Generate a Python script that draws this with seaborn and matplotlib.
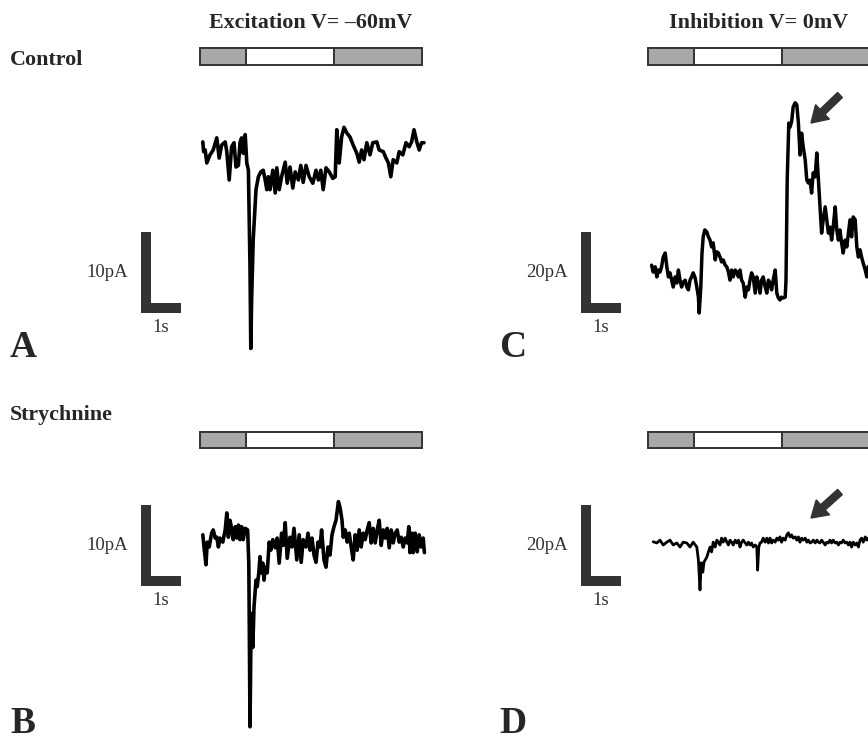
import matplotlib
matplotlib.use("Agg")
import matplotlib.pyplot as plt
from matplotlib.patches import Rectangle, FancyArrow
import pandas as pd
import seaborn as sns

# ---------------- recorded currents (time in s, current in pA) ----------------
# A: control, excitation (V = -60 mV)
time_a = [0.07, 0.09, 0.13, 0.17, 0.25, 0.33, 0.42, 0.48, 0.54, 0.63,
          0.67, 0.73, 0.79, 0.85, 0.90, 0.96, 1.00, 1.04, 1.08, 1.13,
          1.17, 1.21, 1.25, 1.27, 1.29, 1.33, 1.40, 1.46, 1.52, 1.58,
          1.63, 1.67, 1.71, 1.75, 1.82, 1.88, 1.92, 1.98, 2.04, 2.13,
          2.18, 2.25, 2.32, 2.38, 2.46, 2.52, 2.58, 2.65, 2.73, 2.82,
          2.90, 2.96, 3.02, 3.08, 3.15, 3.23, 3.32, 3.38, 3.42, 3.48,
          3.54, 3.60, 3.67, 3.75, 3.83, 3.92, 3.98, 4.04, 4.10, 4.17,
          4.25, 4.32, 4.42, 4.48, 4.58, 4.65, 4.71, 4.77, 4.83, 4.92,
          4.98, 5.07, 5.15, 5.23, 5.29, 5.35, 5.42, 5.48, 5.54, 5.60]
curr_a = [1.0, -0.2, 0.0, -1.6, -0.6, 0.0, 1.5, -1.0, 0.6, 1.0,
          -0.2, -3.7, 0.4, 0.9, -2.1, -1.9, 0.9, 1.5, -0.4, 1.9,
          -1.6, -2.5, -14.4, -24.5, -18.5, -11.1, -4.9, -3.3, -2.7, -2.5,
          -3.7, -4.9, -3.3, -4.9, -2.5, -5.3, -2.2, -4.9, -3.3, -1.5,
          -4.1, -2.1, -4.7, -2.7, -3.7, -1.9, -4.0, -1.9, -3.3, -4.1,
          -2.5, -3.7, -2.5, -4.9, -2.2, -2.7, -3.5, -3.3, 2.5, -1.6,
          1.6, 2.8, 2.1, 1.6, 0.6, -0.4, -1.5, 0.0, -1.2, 0.9,
          -0.6, 0.9, 1.0, 0.0, -0.2, -1.0, -1.6, -3.3, -1.2, -1.6,
          -0.2, -0.6, 0.9, 0.4, 1.0, 2.5, 1.0, 0.0, 0.9, 0.9]

# B: strychnine, excitation (V = -60 mV)
time_b = [0.07, 0.10, 0.15, 0.18, 0.23, 0.29, 0.33, 0.38, 0.42, 0.46,
          0.50, 0.57, 0.63, 0.67, 0.71, 0.75, 0.79, 0.83, 0.88, 0.92,
          0.96, 1.00, 1.04, 1.08, 1.13, 1.19, 1.22, 1.23, 1.25, 1.28,
          1.32, 1.35, 1.40, 1.43, 1.47, 1.50, 1.53, 1.57, 1.60, 1.63,
          1.68, 1.73, 1.77, 1.82, 1.88, 1.93, 1.98, 2.04, 2.08, 2.13,
          2.18, 2.25, 2.30, 2.35, 2.42, 2.48, 2.53, 2.58, 2.65, 2.70,
          2.75, 2.80, 2.85, 2.90, 2.95, 3.00, 3.04, 3.10, 3.15, 3.20,
          3.25, 3.30, 3.35, 3.40, 3.46, 3.50, 3.55, 3.58, 3.63, 3.68,
          3.73, 3.78, 3.83, 3.88, 3.93, 3.98, 4.03, 4.08, 4.13, 4.18,
          4.23, 4.28, 4.33, 4.38, 4.43, 4.48, 4.53, 4.58, 4.63, 4.68,
          4.73, 4.78, 4.83, 4.88, 4.93, 4.98, 5.03, 5.08, 5.13, 5.18,
          5.22, 5.25, 5.30, 5.33, 5.38, 5.43, 5.48, 5.53, 5.58, 5.61]
curr_b = [-0.1, -1.6, -3.8, -1.0, -1.6, 0.1, 0.5, -0.5, -0.4, -1.6,
          -0.5, -1.0, 0.5, 2.6, -0.4, 1.7, 0.7, -0.7, 0.9, -0.5,
          1.1, -0.7, 0.9, -0.7, 0.7, 0.5, -3.6, -9.8, -23.8, -9.8,
          -14.0, -9.0, -5.7, -6.5, -4.8, -2.8, -4.8, -3.6, -5.7, -4.1,
          -4.8, -1.0, -2.0, -0.7, -1.7, -0.5, -3.6, 0.1, -1.4, 1.4,
          -3.0, -0.4, -1.6, 0.7, -3.2, -0.1, -3.5, -0.7, -1.6, 0.1,
          -2.0, -0.5, -2.6, -3.5, -1.0, -1.6, 0.5, -3.2, -4.1, -1.6,
          -2.6, -0.1, 0.9, 1.7, 4.0, 3.3, 1.7, -0.4, 0.5, -1.0,
          0.1, -1.6, -3.2, -0.1, -2.0, 0.5, -1.6, 0.1, -0.7, 0.5,
          1.4, -1.1, 0.7, -1.1, 0.5, 1.7, -1.4, 0.5, -0.5, 0.7,
          -1.7, 0.5, -1.1, 0.1, 0.5, -1.0, -0.4, -1.6, -0.5, -1.1,
          0.9, -2.3, 0.1, -2.3, 0.1, -2.2, -0.1, -1.6, -0.5, -2.3]

# C: control, inhibition (V = 0 mV)
time_c = [0.09, 0.13, 0.18, 0.22, 0.26, 0.30, 0.34, 0.38, 0.43, 0.47,
          0.51, 0.55, 0.59, 0.63, 0.68, 0.72, 0.76, 0.80, 0.84, 0.88,
          0.93, 0.97, 1.01, 1.05, 1.09, 1.13, 1.18, 1.22, 1.26, 1.28,
          1.32, 1.35, 1.38, 1.42, 1.47, 1.51, 1.55, 1.59, 1.63, 1.68,
          1.72, 1.76, 1.80, 1.84, 1.88, 1.93, 1.97, 2.01, 2.05, 2.09,
          2.13, 2.18, 2.22, 2.26, 2.30, 2.34, 2.38, 2.43, 2.47, 2.51,
          2.55, 2.59, 2.63, 2.68, 2.72, 2.76, 2.80, 2.84, 2.88, 2.93,
          2.97, 3.01, 3.05, 3.09, 3.13, 3.18, 3.22, 3.26, 3.30, 3.34,
          3.38, 3.43, 3.45, 3.48, 3.52, 3.55, 3.59, 3.63, 3.68, 3.72,
          3.76, 3.80, 3.84, 3.88, 3.93, 3.97, 4.01, 4.05, 4.09, 4.13,
          4.18, 4.22, 4.26, 4.30, 4.34, 4.38, 4.43, 4.47, 4.51, 4.55,
          4.59, 4.63, 4.68, 4.72, 4.76, 4.80, 4.84, 4.88, 4.93, 4.97,
          5.01, 5.05, 5.09, 5.13, 5.18, 5.22, 5.26, 5.30, 5.34, 5.38,
          5.43, 5.47, 5.50, 5.55]
curr_c = [8.6, 6.9, 8.2, 5.7, 7.4, 6.9, 8.2, 10.6, 11.6, 8.2,
          5.7, 6.7, 4.9, 3.2, 5.7, 4.2, 7.4, 4.9, 3.2, 4.4,
          4.9, 3.2, 2.5, 4.9, 5.7, 6.7, 5.4, 3.2, 0.7, -3.2,
          3.2, 11.6, 15.6, 17.3, 16.8, 15.6, 14.8, 13.1, 14.1, 9.9,
          11.9, 11.6, 10.6, 9.4, 9.9, 8.6, 8.2, 6.9, 4.9, 7.4,
          5.7, 7.4, 6.9, 5.7, 7.4, 4.9, 4.2, 0.7, 3.2, 2.5,
          4.9, 6.7, 5.7, 1.7, 5.7, 4.2, 1.7, 4.9, 5.7, 3.2,
          1.7, 4.9, 4.2, 2.5, 4.9, 7.4, 1.7, 0.5, 0.0, 0.7,
          0.5, 0.7, 4.9, 29.6, 43.7, 42.7, 44.0, 47.7, 48.7, 48.2,
          43.7, 35.8, 41.2, 37.8, 34.6, 29.6, 28.9, 29.6, 26.4, 31.4,
          30.4, 36.3, 29.6, 23.0, 16.5, 19.8, 23.0, 19.8, 16.5, 18.0,
          14.8, 18.0, 23.0, 17.3, 14.8, 17.3, 14.1, 11.6, 14.8, 13.1,
          16.5, 19.8, 15.6, 20.5, 19.8, 13.1, 10.6, 12.4, 10.6, 9.1,
          7.4, 5.7, 8.2, 7.0]

# D: strychnine, inhibition (V = 0 mV)
time_d = [0.13, 0.22, 0.30, 0.38, 0.47, 0.55, 0.63, 0.72, 0.80, 0.88,
          0.97, 1.05, 1.13, 1.22, 1.26, 1.30, 1.33, 1.37, 1.40, 1.43,
          1.47, 1.51, 1.55, 1.59, 1.63, 1.68, 1.72, 1.76, 1.80, 1.84,
          1.88, 1.93, 1.97, 2.01, 2.05, 2.09, 2.13, 2.18, 2.22, 2.26,
          2.30, 2.34, 2.38, 2.43, 2.47, 2.51, 2.55, 2.59, 2.63, 2.68,
          2.72, 2.74, 2.77, 2.80, 2.84, 2.88, 2.93, 2.97, 3.01, 3.05,
          3.09, 3.13, 3.18, 3.22, 3.26, 3.30, 3.34, 3.38, 3.43, 3.47,
          3.51, 3.55, 3.59, 3.63, 3.68, 3.72, 3.76, 3.80, 3.84, 3.88,
          3.93, 3.97, 4.01, 4.05, 4.09, 4.13, 4.18, 4.22, 4.26, 4.30,
          4.34, 4.38, 4.43, 4.47, 4.51, 4.55, 4.59, 4.63, 4.68, 4.72,
          4.76, 4.80, 4.84, 4.88, 4.93, 4.97, 5.01, 5.05, 5.09, 5.13,
          5.18, 5.22, 5.26, 5.30, 5.34, 5.38, 5.43, 5.47, 5.50, 5.55]
curr_d = [0.8, 0.5, 1.2, 0.0, 0.7, 1.2, 0.0, 0.5, -0.5, 0.7,
          0.5, -0.5, 0.7, -0.5, -3.7, -11.1, -4.4, -6.7, -4.2, -3.7,
          -3.0, -1.7, -0.5, -1.7, 0.7, -0.5, 1.2, 0.7, 0.0, 1.7,
          0.7, 1.7, 0.7, 0.0, 1.2, 0.7, 0.0, 1.2, 0.5, 1.2,
          -0.5, 0.7, 1.2, 0.5, 0.0, 0.7, 0.0, 0.5, -0.5, 0.0,
          -0.5, -6.2, -0.5, 0.5, 0.7, 1.7, 0.7, 1.7, 0.5, 1.7,
          0.5, 1.2, 0.7, 1.7, 1.2, 2.0, 0.7, 1.7, 1.2, 2.5,
          3.0, 2.0, 2.5, 1.7, 2.0, 1.2, 2.0, 0.7, 1.7, 1.2,
          1.7, 0.7, 1.2, 0.5, 0.7, 1.2, 0.5, 1.2, 0.7, 0.5,
          1.2, 0.7, 0.0, 0.7, 0.5, 1.2, 0.5, 1.2, 0.5, 0.7,
          0.0, 0.7, 0.5, 1.2, 0.5, 0.7, 0.0, 0.7, -0.5, 0.7,
          0.0, 0.5, -0.5, 1.2, 1.7, 0.7, 2.0, 1.2, 1.7, 1.0]

# stimulation protocol (s): background / stimulus / background
protocol_start = [0.0, 1.15, 3.35]
protocol_length = [1.15, 2.20, 2.20]
protocol_fill = ["#a8a8a8", "#ffffff", "#a8a8a8"]

# calibration bars
scale_pA = [10, 10, 20, 20]
scale_s = 1.0

column_titles = ["Excitation V= \u201360mV", "Inhibition V= 0mV"]
row_titles = ["Control", "Strychnine"]
panel_letters = ["A", "B", "C", "D"]

# ---------------- figure ----------------
sns.set_style("white")
plt.rcParams["font.family"] = ["Liberation Serif", "DejaVu Serif"]

W, H = 868, 740
fig = plt.figure(figsize=(W / 100, H / 100), dpi=100)
fig.patch.set_facecolor("white")

PX_PER_S = 40.0
INK = "#333333"


def box(x0, x1, y0, y1):
    """Figure-fraction rectangle from pixel edges measured from the top-left."""
    return [x0 / W, 1 - y1 / H, (x1 - x0) / W, (y1 - y0) / H]


panels = [
    dict(t=time_a, i=curr_a, amp=scale_pA[0], t0=200, iy=150, ppa=8.1,
         frame=(100, 440, 70, 372), stim=(48, 65), bar_x=141, bar_y=313, lw=2.6),
    dict(t=time_b, i=curr_b, amp=scale_pA[1], t0=200, iy=534, ppa=8.1,
         frame=(100, 440, 455, 740), stim=(432, 448), bar_x=141, bar_y=586, lw=2.6),
    dict(t=time_c, i=curr_c, amp=scale_pA[2], t0=648, iy=300, ppa=4.05,
         frame=(550, 900, 70, 372), stim=(48, 65), bar_x=581, bar_y=313, lw=2.5),
    dict(t=time_d, i=curr_d, amp=scale_pA[3], t0=648, iy=545, ppa=4.05,
         frame=(550, 900, 455, 740), stim=(432, 448), bar_x=581, bar_y=586, lw=2.0),
]

for p in panels:
    x0, x1, y0, y1 = p["frame"]
    xlim = ((x0 - p["t0"]) / PX_PER_S, (x1 - p["t0"]) / PX_PER_S)

    # current trace
    ax = fig.add_axes(box(x0, x1, y0, y1))
    ax.set_xlim(*xlim)
    ax.set_ylim((p["iy"] - y1) / p["ppa"], (p["iy"] - y0) / p["ppa"])
    ax.axis("off")
    df = pd.DataFrame({"time": p["t"], "current": p["i"]})
    sns.lineplot(data=df, x="time", y="current", ax=ax, color="black",
                 lw=p["lw"], estimator=None, sort=False,
                 solid_joinstyle="round", solid_capstyle="round")

    # L-shaped calibration bar
    bl = (p["bar_x"] - p["t0"]) / PX_PER_S
    bb = (p["iy"] - p["bar_y"]) / p["ppa"]
    ax.add_patch(Rectangle((bl, bb), 10 / PX_PER_S, p["amp"],
                           facecolor=INK, edgecolor="none", clip_on=False))
    ax.add_patch(Rectangle((bl, bb), scale_s, 10 / p["ppa"],
                           facecolor=INK, edgecolor="none", clip_on=False))
    ax.annotate(f"{p['amp']}pA", xy=(bl, bb + p["amp"] / 2), xytext=(-13, 0),
                textcoords="offset pixels", ha="right", va="center",
                fontsize=13.5, color=INK)
    ax.annotate(f"{scale_s:g}s", xy=(bl + scale_s / 2, bb), xytext=(0, -6),
                textcoords="offset pixels", ha="center", va="top",
                fontsize=13.5, color=INK)

    # stimulation protocol bar
    s0, s1 = p["stim"]
    sax = fig.add_axes(box(x0, x1, s0, s1))
    sax.set_xlim(*xlim)
    sax.set_ylim(0, 1)
    sax.axis("off")
    sax.barh(0.5, protocol_length, left=protocol_start, height=1.0,
             color=protocol_fill, edgecolor=INK, linewidth=1.4, clip_on=False)

# column and row headings
for title, cx in zip(column_titles, [311, 759]):
    fig.text(cx / W, 1 - 28 / H, title, ha="center", va="baseline",
             fontsize=15.8, fontweight="bold")
for title, by in zip(row_titles, [65, 420]):
    fig.text(10 / W, 1 - by / H, title, ha="left", va="baseline",
             fontsize=15.8, fontweight="bold")

# panel letters
for letter, (lx, ly) in zip(panel_letters, [(10, 357), (10, 733), (499, 357), (499, 733)]):
    fig.text(lx / W, 1 - ly / H, letter, ha="left", va="baseline",
             fontsize=27, fontweight="bold")

# arrows pointing at the late outward current
for tail, tip in [((840, 95), (811, 123)), ((840, 492), (811, 518))]:
    xa, ya = tail[0] / 100, (H - tail[1]) / 100
    dx, dy = (tip[0] - tail[0]) / 100, -(tip[1] - tail[1]) / 100
    fig.add_artist(FancyArrow(xa, ya, dx, dy, width=0.07, head_width=0.2,
                              head_length=0.16, length_includes_head=True,
                              color=INK, transform=fig.dpi_scale_trans))

fig.savefig("out.png", dpi=100, facecolor="white")
